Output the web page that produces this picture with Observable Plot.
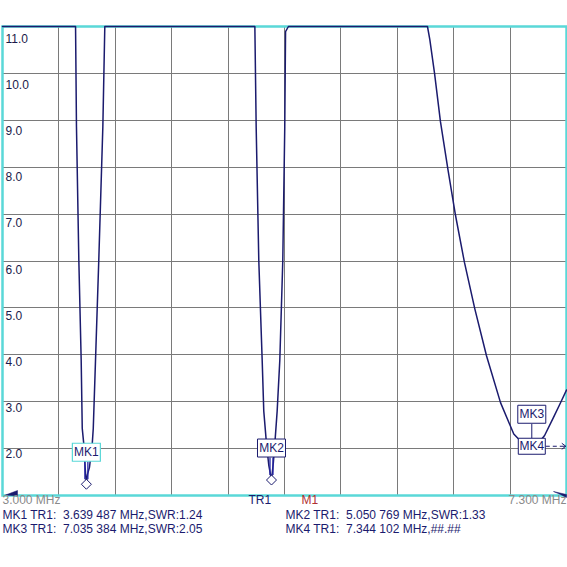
<!DOCTYPE html>
<html><head><meta charset="utf-8">
<script src="https://cdn.jsdelivr.net/npm/d3@7"></script>
<script src="https://cdn.jsdelivr.net/npm/@observablehq/plot@0.6"></script>
<style>
html,body{margin:0;padding:0;background:#fff;}
svg text{white-space:pre;}
</style></head><body><div id="chart"></div>
<script>
// ---- data ----
const traceFreq = [3.000,3.557,3.564,3.582,3.600,3.608,3.620,3.630,3.639,3.648,3.663,3.684,3.692,3.709,3.734,3.765,3.780,
  4.924,4.934,4.954,4.980,4.992,5.013,5.030,5.051,5.065,5.076,5.094,5.114,5.137,5.152,5.158,5.180,
  6.240,6.258,6.294,6.339,6.395,6.454,6.522,6.601,6.690,6.797,6.898,6.960,7.035,7.090,7.133,7.200,7.250,7.300];
const traceSWR = [11,11,8.86,6.01,3.87,2.43,2.09,1.60,1.24,1.45,1.60,2.09,2.43,3.87,6.01,8.86,11,
  11,8.86,6.01,3.87,2.80,2.09,1.65,1.33,1.70,2.09,2.80,3.87,6.01,8.86,10.89,11,
  11,10.72,10.0,8.97,7.97,6.97,5.97,4.98,3.98,2.98,2.31,2.13,2.05,2.13,2.28,2.66,2.95,3.25];
const markerNames = ["MK1","MK2","MK3","MK4"];
const markerFreq = [3.639487, 5.050769, 7.035384, 7.344102];
const markerSWR = [1.24, 1.33, 2.05, null];
const traceName = "TR1";
const refName = "M1";
const startFreq = 3.0, stopFreq = 7.3;
const swrMin = 1, swrMax = 11;
const yTicks = [2,3,4,5,6,7,8,9,10,11];
const xDivisions = 10;

// ---- layout / style ----
const W = 567, H = 567, mL = 2, mR = 1, mT = 26, mB = 72;
const navy = "#1b1b6e", cyan = "#5ad8d8", gridC = "#7a7a7a", font = "Liberation Sans, Arial, sans-serif";

const trace = traceFreq.map((f, i) => ({f, s: traceSWR[i]}));
const markers = markerNames.map((name, i) => ({name, f: markerFreq[i], s: markerSWR[i],
  on: markerFreq[i] <= stopFreq && markerSWR[i] != null}));
let last = null;
for (const m of markers) { if (m.on) last = m; else if (last) { m.af = last.f; m.as = last.s; last.stacked = true; } }
const vis = markers.filter(m => m.on);
const off = markers.filter(m => !m.on && m.af != null);

const fmtF = f => { const s = f.toFixed(6); return s.slice(0, -3) + " " + s.slice(-3); };
const readout = m => `${m.name} ${traceName}:  ${fmtF(m.f)} MHz,` + (m.s != null && m.on ? `SWR:${m.s.toFixed(2)}` : "##.##");

const xGrid = d3.range(1, xDivisions).map(i => startFreq + i * (stopFreq - startFreq) / xDivisions);

const boxSym = (w, h) => ({draw(c) { c.rect(-w / 2, -h / 2, w, h); }});
const diamondSym = {draw(c) { c.moveTo(0, -5); c.lineTo(5, 0); c.lineTo(0, 5); c.lineTo(-5, 0); c.closePath(); }};
const dblSym = {draw(c) { c.moveTo(-1.5, -22.5); c.lineTo(-1.5, -5); c.moveTo(1.5, -22.5); c.lineTo(1.5, -5); }};
const sglSym = {draw(c) { c.moveTo(0, -22.5); c.lineTo(0, -8); }};
const arrowSym = {draw(c) { c.moveTo(14, 0); c.lineTo(18, 0); c.moveTo(21, 0); c.lineTo(25, 0); c.moveTo(28, 0); c.lineTo(34, 0); c.moveTo(30, -3); c.lineTo(34, 0); c.lineTo(30, 3); }};
const wedgeL = {draw(c) { c.moveTo(3, -0.5); c.lineTo(15, -5); c.lineTo(15, 0.5); c.closePath(); }};
const wedgeR = {draw(c) { c.moveTo(-13, -4); c.lineTo(0, -1); c.lineTo(0, 2); c.lineTo(-6, -1); c.closePath(); }};

const marks = [
  Plot.ruleX(xGrid, {stroke: gridC, strokeWidth: 1, shapeRendering: "crispEdges"}),
  Plot.ruleY(yTicks.filter(v => v < swrMax), {stroke: gridC, strokeWidth: 1, shapeRendering: "crispEdges"}),
  Plot.frame({stroke: cyan, strokeWidth: 2.5}),
  Plot.line(trace, {x: "f", y: "s", stroke: navy, strokeWidth: 1.5}),
  Plot.dot(vis.filter(m => !m.stacked), {x: "f", y: "s", symbol: dblSym, stroke: "#2626a6", fill: "none", strokeWidth: 1.3}),
  Plot.dot(vis.filter(m => m.stacked), {x: "f", y: "s", symbol: sglSym, stroke: navy, fill: "none", strokeWidth: 1}),
  Plot.dot(vis, {x: "f", y: "s", symbol: diamondSym, stroke: navy, fill: "white", strokeWidth: 1}),
  Plot.dot(vis.slice(0, 1), {x: "f", y: "s", dy: -32, symbol: boxSym(28, 18), stroke: cyan, fill: "white", strokeWidth: 1.2}),
  Plot.dot(vis.slice(1), {x: "f", y: "s", dy: -32, symbol: boxSym(28, 18), stroke: navy, fill: "white", strokeWidth: 1}),
  Plot.text(vis, {x: "f", y: "s", dy: -32, text: "name", fill: navy, fontSize: 12}),
  Plot.dot(off, {x: "af", y: "as", symbol: boxSym(27, 16), stroke: navy, fill: "white", strokeWidth: 1}),
  Plot.dot(off, {x: "af", y: "as", symbol: arrowSym, stroke: navy, fill: "none", strokeWidth: 1}),
  Plot.text(off, {x: "af", y: "as", text: "name", fill: navy, fontSize: 12}),
  // y labels inside plot
  ...yTicks.map(v => Plot.text([v], {y: d => d, text: d => d.toFixed(1), frameAnchor: "left", dx: 3,
    dy: 5.8 + (v - 2) * 0.72, textAnchor: "start", fill: "#1a1a4a", fontSize: 12})),
  // corner reference wedges
  Plot.dot([0], {frameAnchor: "bottom-left", symbol: wedgeL, fill: navy, stroke: navy, strokeWidth: 0.5}),
  Plot.dot([0], {frameAnchor: "bottom-right", symbol: wedgeR, fill: navy, stroke: navy, strokeWidth: 0.5}),
  // axis annotations below
  Plot.text([startFreq.toFixed(3) + " MHz"], {frameAnchor: "bottom-left", dy: 8, textAnchor: "start", fill: "#8a8a8a", fontSize: 12}),
  Plot.text([stopFreq.toFixed(3) + " MHz"], {frameAnchor: "bottom-right", dy: 8, textAnchor: "end", fill: "#8a8a8a", fontSize: 12}),
  Plot.text([traceName], {frameAnchor: "bottom-left", dx: 246, dy: 8, textAnchor: "start", fill: navy, fontSize: 12}),
  Plot.text([refName], {frameAnchor: "bottom-left", dx: 299, dy: 8, textAnchor: "start", fill: "#b03030", fontSize: 12}),
  // marker readouts
  Plot.text([readout(markers[0])], {frameAnchor: "bottom-left", dy: 23, textAnchor: "start", fill: navy, fontSize: 12}),
  Plot.text([readout(markers[1])], {frameAnchor: "bottom-left", dx: 283, dy: 23, textAnchor: "start", fill: navy, fontSize: 12}),
  Plot.text([readout(markers[2])], {frameAnchor: "bottom-left", dy: 37.3, textAnchor: "start", fill: navy, fontSize: 12}),
  Plot.text([readout(markers[3])], {frameAnchor: "bottom-left", dx: 283, dy: 37.3, textAnchor: "start", fill: navy, fontSize: 12})
];

const chart = Plot.plot({
  width: W, height: H,
  marginLeft: mL, marginRight: mR, marginTop: mT, marginBottom: mB,
  x: {domain: [startFreq, stopFreq], axis: null},
  y: {domain: [swrMin, swrMax], axis: null},
  style: {fontFamily: font, fontSize: "12px", background: "white", overflow: "visible"},
  marks
});
document.getElementById("chart").appendChild(chart);
</script></body></html>
